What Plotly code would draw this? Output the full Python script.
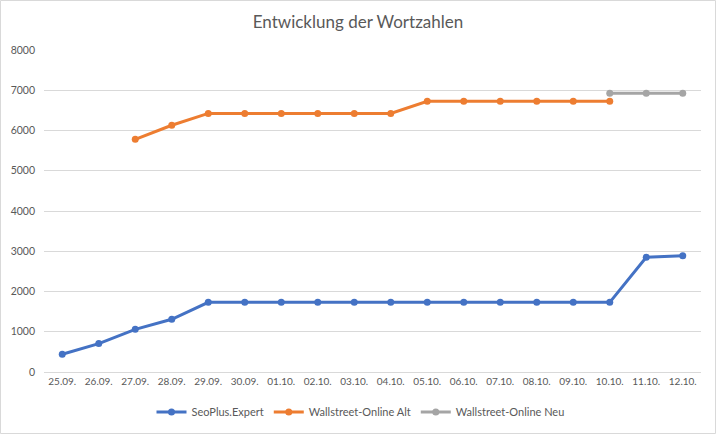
import plotly.graph_objects as go

categories = ["25.09.", "26.09.", "27.09.", "28.09.", "29.09.", "30.09.", "01.10.", "02.10.", "03.10.",
              "04.10.", "05.10.", "06.10.", "07.10.", "08.10.", "09.10.", "10.10.", "11.10.", "12.10."]
seoplus = [440, 705, 1060, 1310, 1730, 1730, 1730, 1730, 1730, 1730, 1730, 1730, 1730, 1730, 1730, 1730, 2850, 2890]
ws_alt = [None, None, 5780, 6130, 6425, 6425, 6425, 6425, 6425, 6425, 6725, 6725, 6725, 6725, 6725, 6725, None, None]
ws_neu = [None] * 15 + [6925, 6925, 6925]

series = [
    ("SeoPlus.Expert", seoplus, "#4472C4"),
    ("Wallstreet-Online Alt", ws_alt, "#ED7D31"),
    ("Wallstreet-Online Neu", ws_neu, "#A5A5A5"),
]

font_family = "Lato, 'Open Sans', sans-serif"

fig = go.Figure()
for name, vals, col in series:
    fig.add_trace(go.Scatter(
        x=categories, y=vals, name=name, mode="lines+markers",
        line=dict(color=col, width=3), marker=dict(color=col, size=7),
        connectgaps=False,
    ))

fig.update_layout(
    width=716, height=434,
    margin=dict(l=44, r=15, t=50, b=62, autoexpand=False),
    paper_bgcolor="white", plot_bgcolor="white",
    font=dict(family=font_family, color="#595959", size=10),
    title=dict(text="Entwicklung der Wortzahlen", x=0.5, xanchor="center", y=0.95, yanchor="middle",
               font=dict(size=17, color="#595959", family=font_family)),
    xaxis=dict(type="category", range=[-0.5, 17.5], showgrid=False, showline=True,
               linecolor="#d9d9d9", linewidth=1, ticks="", tickfont=dict(size=10), tickangle=0,
               automargin=False),
    yaxis=dict(range=[0, 8000], dtick=1000, showgrid=True, gridcolor="#d9d9d9", gridwidth=1,
               zeroline=False, showline=False, ticks="", tickfont=dict(size=10.5), tickformat="d",
               automargin=False, ticklabelstandoff=8),
    legend=dict(orientation="h", x=0.5 - 12 / 657, xanchor="center", y=-40/322, yanchor="middle",
                font=dict(size=11, color="#595959"), itemwidth=30, tracegroupgap=0),
    showlegend=True,
    shapes=[dict(type="rect", xref="paper", yref="paper", x0=-43.5/657, x1=1+14.5/657,
                 y0=-61.5/322, y1=1+49.5/322, line=dict(color="#d9d9d9", width=1))],
)

fig.write_html("out.html", config={"displayModeBar": False},
               post_script="document.body.style.margin='0';document.body.style.overflow='hidden';")
